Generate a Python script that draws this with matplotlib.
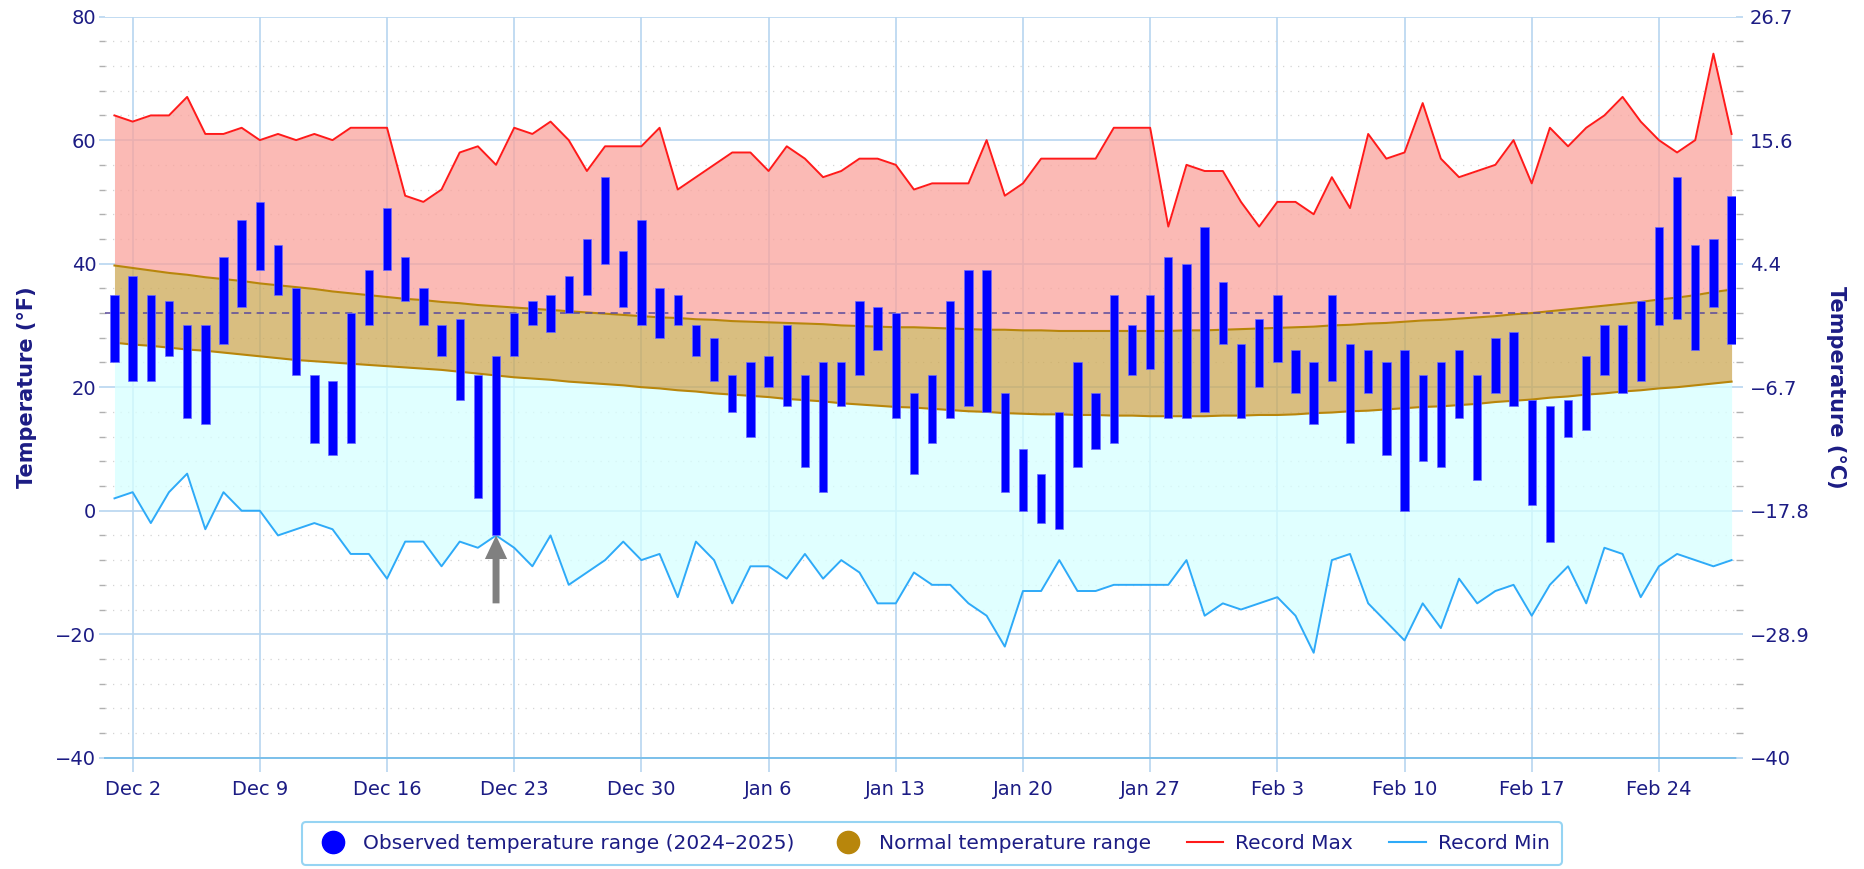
import matplotlib
matplotlib.use("Agg")
import matplotlib.pyplot as plt
from matplotlib.lines import Line2D
from matplotlib.ticker import MultipleLocator
import numpy as np

plt.rcParams['font.family'] = ['DejaVu Sans']

# Data: Dec 1 2024 .. Feb 28 2025, one value per day (°F)
obs_high = [35, 38, 35, 34, 30, 30, 41, 47, 50, 43, 36, 22, 21, 32, 39, 49, 41, 36, 30, 31,
            22, 25, 32, 34, 35, 38, 44, 54, 42, 47, 36, 35, 30, 28, 22, 24, 25, 30, 22, 24,
            24, 34, 33, 32, 19, 22, 34, 39, 39, 19, 10, 6, 16, 24, 19, 35, 30, 35, 41, 40,
            46, 37, 27, 31, 35, 26, 24, 35, 27, 26, 24, 26, 22, 24, 26, 22, 28, 29, 18, 17,
            18, 25, 30, 30, 34, 46, 54, 43, 44, 51]
obs_low = [24, 21, 21, 25, 15, 14, 27, 33, 39, 35, 22, 11, 9, 11, 30, 39, 34, 30, 25, 18,
           2, -4, 25, 30, 29, 32, 35, 40, 33, 30, 28, 30, 25, 21, 16, 12, 20, 17, 7, 3,
           17, 22, 26, 15, 6, 11, 15, 17, 16, 3, 0, -2, -3, 7, 10, 11, 22, 23, 15, 15,
           16, 27, 15, 20, 24, 19, 14, 21, 11, 19, 9, 0, 8, 7, 15, 5, 19, 17, 1, -5,
           12, 13, 22, 19, 21, 30, 31, 26, 33, 27]
record_max = [64, 63, 64, 64, 67, 61, 61, 62, 60, 61, 60, 61, 60, 62, 62, 62, 51, 50, 52, 58,
              59, 56, 62, 61, 63, 60, 55, 59, 59, 59, 62, 52, 54, 56, 58, 58, 55, 59, 57, 54,
              55, 57, 57, 56, 52, 53, 53, 53, 60, 51, 53, 57, 57, 57, 57, 62, 62, 62, 46, 56,
              55, 55, 50, 46, 50, 50, 48, 54, 49, 61, 57, 58, 66, 57, 54, 55, 56, 60, 53, 62,
              59, 62, 64, 67, 63, 60, 58, 60, 74, 61]
record_min = [2, 3, -2, 3, 6, -3, 3, 0, 0, -4, -3, -2, -3, -7, -7, -11, -5, -5, -9, -5,
              -6, -4, -6, -9, -4, -12, -10, -8, -5, -8, -7, -14, -5, -8, -15, -9, -9, -11, -7, -11,
              -8, -10, -15, -15, -10, -12, -12, -15, -17, -22, -13, -13, -8, -13, -13, -12, -12, -12, -12, -8,
              -17, -15, -16, -15, -14, -17, -23, -8, -7, -15, -18, -21, -15, -19, -11, -15, -13, -12, -17, -12,
              -9, -15, -6, -7, -14, -9, -7, -8, -9, -8]
normal_high = [39.7, 39.3, 38.9, 38.5, 38.2, 37.8, 37.5, 37.2, 36.8, 36.5, 36.2, 35.9, 35.5, 35.2, 34.9,
               34.6, 34.3, 34.1, 33.8, 33.6, 33.3, 33.1, 32.9, 32.7, 32.5, 32.3, 32.1, 31.9, 31.7, 31.5,
               31.3, 31.2, 31.0, 30.9, 30.7, 30.6, 30.5, 30.4, 30.3, 30.2, 30.0, 29.9, 29.8, 29.7, 29.7,
               29.6, 29.5, 29.4, 29.3, 29.3, 29.2, 29.2, 29.1, 29.1, 29.1, 29.1, 29.1, 29.1, 29.1, 29.2,
               29.2, 29.3, 29.4, 29.5, 29.6, 29.7, 29.8, 30.0, 30.1, 30.3, 30.4, 30.6, 30.8, 30.9, 31.1,
               31.3, 31.5, 31.8, 32.0, 32.3, 32.6, 32.9, 33.2, 33.5, 33.8, 34.2, 34.5, 34.9, 35.4, 35.8]
normal_low = [27.2, 26.9, 26.7, 26.4, 26.1, 25.9, 25.6, 25.3, 25.0, 24.7, 24.4, 24.2, 24.0, 23.8, 23.6,
              23.4, 23.2, 23.0, 22.8, 22.5, 22.2, 21.9, 21.6, 21.4, 21.2, 20.9, 20.7, 20.5, 20.3, 20.0,
              19.8, 19.5, 19.3, 19.0, 18.8, 18.6, 18.4, 18.1, 17.9, 17.7, 17.4, 17.2, 17.0, 16.8, 16.7,
              16.5, 16.3, 16.1, 16.0, 15.8, 15.7, 15.6, 15.6, 15.5, 15.5, 15.4, 15.4, 15.3, 15.3, 15.3,
              15.3, 15.4, 15.4, 15.5, 15.5, 15.6, 15.8, 15.9, 16.1, 16.2, 16.4, 16.6, 16.8, 16.9, 17.1,
              17.3, 17.6, 17.8, 18.0, 18.3, 18.5, 18.8, 19.0, 19.3, 19.5, 19.8, 20.0, 20.3, 20.6, 20.9]

tick_days = [1, 8, 15, 22, 29, 36, 43, 50, 57, 64, 71, 78, 85]
tick_labels = ["Dec 2", "Dec 9", "Dec 16", "Dec 23", "Dec 30", "Jan 6", "Jan 13",
               "Jan 20", "Jan 27", "Feb 3", "Feb 10", "Feb 17", "Feb 24"]
freezing_f = 32
arrow_day, arrow_tip, arrow_tail = 21, -4, -15

NAVY = "#1c1c84"
GRID = "#b8d6f0"

days = np.arange(len(obs_high))
hi = np.array(obs_high)
lo = np.array(obs_low)

fig = plt.figure(figsize=(18.64, 8.69), dpi=100)
ax = fig.add_axes([0.0561, 0.128, 0.8752, 0.8529])

# grid first, fills go semi-transparent over it
for d in tick_days:
    ax.axvline(d, color=GRID, lw=1.2, zorder=0)
for f in range(-40, 81, 20):
    ax.axhline(f, color=GRID, lw=1.2, zorder=0)
for f in range(-36, 80, 4):
    if f % 20:
        ax.axhline(f, color="#d4d4d4", lw=0.9, ls=(0, (1, 5)), zorder=0)

ax.fill_between(days, normal_high, record_max, color="#faa39c", alpha=0.75, lw=0, zorder=1)
ax.fill_between(days, normal_low, normal_high, color="#cda956", alpha=0.75, lw=0, zorder=1)
ax.fill_between(days, record_min, normal_low, color="#d6ffff", alpha=0.75, lw=0, zorder=1)

ax.plot(days, normal_high, color="#b8860b", lw=1.5, zorder=2)
ax.plot(days, normal_low, color="#b8860b", lw=1.5, zorder=2)
ax.plot(days, record_max, color="#ff1a1a", lw=1.4, zorder=2)
ax.plot(days, record_min, color="#2eaaf8", lw=1.4, zorder=2)

ax.axhline(freezing_f, color="#5a4a9c", lw=1.3, ls=(0, (4, 3)), alpha=0.85, zorder=3)

ax.bar(days, hi - lo, bottom=lo, width=0.46, color="#0000ff",
       edgecolor="#6a6aff", linewidth=0.5, zorder=4)

ax.annotate("", xy=(arrow_day, arrow_tip), xytext=(arrow_day, arrow_tail),
            arrowprops=dict(facecolor="#808080", edgecolor="none", width=5,
                            headwidth=16, headlength=17, shrink=0),
            zorder=5)

ax.set_xlim(-0.545, 89.24)
ax.set_ylim(-40, 80)
for s in ["top", "left", "right"]:
    ax.spines[s].set_visible(False)
ax.spines["bottom"].set_color("#7cc0ea")
ax.spines["bottom"].set_linewidth(1.4)

ax.set_xticks(tick_days)
ax.set_xticklabels(tick_labels)
ax.tick_params(axis="x", length=10, width=1.2, color=GRID, pad=6,
               labelsize=14, labelcolor=NAVY)

ax.yaxis.set_major_locator(MultipleLocator(20))
ax.yaxis.set_minor_locator(MultipleLocator(4))
ax.tick_params(axis="y", which="major", length=4, width=1.2, color=GRID, pad=2,
               labelsize=14, labelcolor=NAVY)
ax.tick_params(axis="y", which="minor", length=4, width=1, color="#b0b0b0")
ax.set_ylabel("Temperature (°F)", fontsize=15, fontweight="bold", color=NAVY, labelpad=13)

# right axis in °C on the same scale
ax2 = ax.twinx()
ax2.set_ylim(ax.get_ylim())
f_ticks = np.arange(-40, 81, 20)
ax2.set_yticks(f_ticks)
ax2.set_yticklabels(["{:g}".format(round((f - 32) * 5 / 9, 1)).replace("-", "\u2212")
                     for f in f_ticks])
ax2.yaxis.set_minor_locator(MultipleLocator(4))
for s in ["top", "left", "right", "bottom"]:
    ax2.spines[s].set_visible(False)
ax2.tick_params(axis="y", which="major", length=5, width=1.2, color=GRID, pad=5,
                labelsize=14, labelcolor=NAVY)
ax2.tick_params(axis="y", which="minor", length=5, width=1, color="#b0b0b0")
ax2.set_ylabel("Temperature (°C)", fontsize=15, fontweight="bold", color=NAVY,
               rotation=270, labelpad=26)

handles = [
    Line2D([], [], ls="none", marker="o", markersize=16, color="#0000ff"),
    Line2D([], [], ls="none", marker="o", markersize=16, color="#b8860b"),
    Line2D([], [], color="#ff1a1a", lw=1.5),
    Line2D([], [], color="#2eaaf8", lw=1.5),
]
labels = ["Observed temperature range (2024\u20132025)", "Normal temperature range",
          "Record Max", "Record Min"]
leg = fig.legend(handles, labels, loc="center", bbox_to_anchor=(0.5, 0.029), ncol=4,
                 fontsize=14.5, frameon=True, fancybox=True, handlelength=1.8,
                 handletextpad=0.6, columnspacing=1.8, borderpad=0.6)
for t in leg.get_texts():
    t.set_color(NAVY)
leg.get_frame().set_edgecolor("#7ccaf0")
leg.get_frame().set_linewidth(1.5)

fig.savefig("out.png", dpi=100)
